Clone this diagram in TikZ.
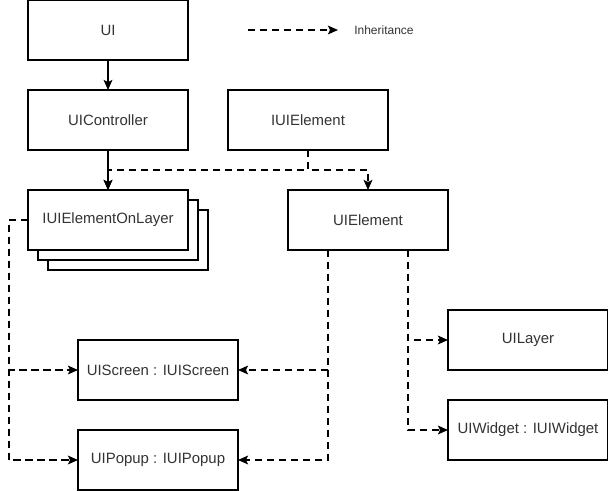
\documentclass[tikz,border=0pt]{standalone}
\usepackage{fontspec}
\setmainfont{Liberation Sans}
\usepackage{tikz}
\usetikzlibrary{arrows.meta,positioning,shadows}

\begin{document}
\begin{tikzpicture}[
  node distance=22.5pt and 30pt,
  box/.style={rectangle, draw, line width=0.8pt, outer sep=0pt, fill=white, minimum width=120pt, minimum height=45pt, align=center, font=\fontsize{11.2}{13}\selectfont, text=black!80},
  stack/.style={box, double copy shadow={shadow xshift=7.5pt, shadow yshift=-7.5pt, draw, line width=0.8pt, fill=white}},
  arr/.style={-{Stealth[length=7.5pt, width=6.5pt, inset=1.5pt]}, line width=1.4pt},
  inh/.style={arr, dash pattern=on 5.5pt off 3.5pt},
  legend/.style={inner sep=0pt, font=\fontsize{9}{11}\selectfont, text=black!80}
]
  \useasboundingbox (-81pt,22.5pt) rectangle (375pt,-345.75pt);

  \node[box] (ui) {UI};
  \node[box, below=of ui] (ctrl) {UIController};
  \node[box, right=of ctrl] (iuie) {IUIElement};

  \node[stack, below=30pt of ctrl] (onlayer) {IUIElementOnLayer};
  \node[box, right=75pt of onlayer] (uie) {UIElement};

  \node[box, below=67.5pt of onlayer, xshift=37.5pt] (screen) {UIScreen : IUIScreen};
  \node[box, below=of screen] (popup) {UIPopup : IUIPopup};

  \node[box, below=45pt of uie, xshift=120pt] (layer) {UILayer};
  \node[box, below=of layer] (widget) {UIWidget : IUIWidget};

  \coordinate[right=45pt of ui] (legA);
  \coordinate[right=67.5pt of legA] (legB);
  \node[legend, right=12pt of legB] (legtxt) {Inheritance};
  \draw[inh] (legA) -- (legB);

  \draw[inh] (iuie.south) -- ++(0,-15pt) -| (onlayer.north);
  \draw[inh] (iuie.south) -- ++(0,-15pt) -| (uie.north);
  \draw[arr] (ui) -- (ctrl);
  \draw[arr] (ctrl) -- (onlayer);

  \draw[inh] (onlayer.west) -- ++(-14.5pt,0) |- (screen.west);
  \draw[inh] (onlayer.west) -- ++(-14.5pt,0) |- (popup.west);

  \draw[inh] ([xshift=-30pt]uie.south) |- (screen.east);
  \draw[inh] ([xshift=-30pt]uie.south) |- (popup.east);

  \draw[inh] ([xshift=30pt]uie.south) |- (layer.west);
  \draw[inh] ([xshift=30pt]uie.south) |- (widget.west);
\end{tikzpicture}
\end{document}
